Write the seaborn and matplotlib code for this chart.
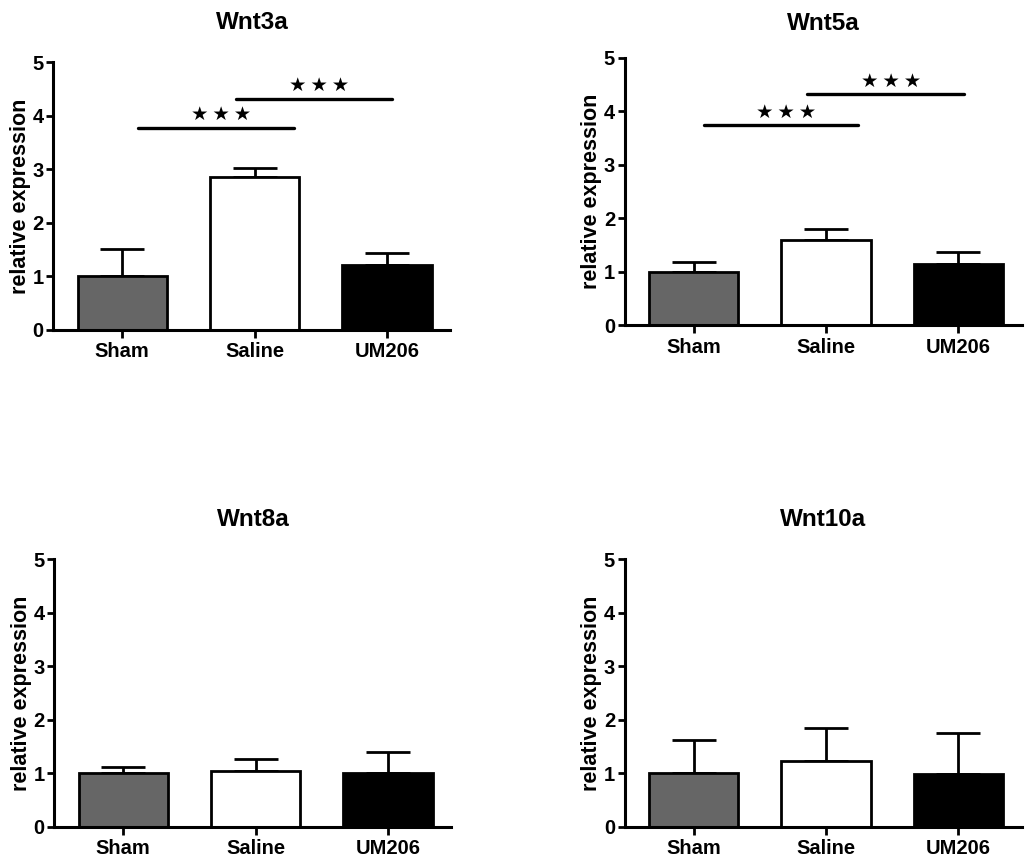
import numpy as np
import pandas as pd
import matplotlib
matplotlib.use("Agg")
import matplotlib.pyplot as plt
import seaborn as sns

groups = ["Sham", "Saline", "UM206"]
colors = ["#666666", "#ffffff", "#000000"]

genes = ["Wnt3a", "Wnt5a", "Wnt8a", "Wnt10a"]
wnt3a_mean = [1.00, 2.86, 1.21]
wnt3a_err = [0.51, 0.16, 0.22]
wnt5a_mean = [1.00, 1.60, 1.15]
wnt5a_err = [0.19, 0.20, 0.23]
wnt8a_mean = [1.00, 1.05, 1.00]
wnt8a_err = [0.11, 0.21, 0.39]
wnt10a_mean = [1.00, 1.23, 0.98]
wnt10a_err = [0.62, 0.61, 0.78]

# significance bars: (start, end, height) in category / data units
sig_wnt3a = [(0.12, 1.30, 3.77), (0.86, 2.04, 4.32)]
sig_wnt5a = [(0.08, 1.24, 3.74), (0.86, 2.04, 4.32)]

means = [wnt3a_mean, wnt5a_mean, wnt8a_mean, wnt10a_mean]
errs = [wnt3a_err, wnt5a_err, wnt8a_err, wnt10a_err]
sigs = [sig_wnt3a, sig_wnt5a, [], []]

sns.set_style("ticks")
plt.rcParams['font.family'] = ['Liberation Sans', 'DejaVu Sans']
plt.rcParams['font.weight'] = 'bold'
for k in ['text.color', 'axes.labelcolor', 'xtick.color', 'ytick.color', 'axes.edgecolor']:
    plt.rcParams[k] = 'black'

fig = plt.figure(figsize=(10.26, 8.63), dpi=100)
positions = [
    [0.052, 0.618, 0.387, 0.310],
    [0.609, 0.623, 0.387, 0.310],
    [0.053, 0.042, 0.387, 0.310],
    [0.609, 0.042, 0.387, 0.310],
]
title_pads = [24, 20, 24, 24]

for gene, m, e, sg, pos, tp in zip(genes, means, errs, sigs, positions, title_pads):
    ax = fig.add_axes(pos)
    df = pd.DataFrame({"group": groups, "value": m})
    sns.barplot(data=df, x="group", y="value", hue="group", palette=colors,
                edgecolor="black", linewidth=2, width=0.675, legend=False,
                errorbar=None, ax=ax, zorder=2)
    ax.errorbar(range(len(groups)), m, yerr=[np.zeros(len(e)), e], fmt="none",
                ecolor="black", elinewidth=2, capsize=16, capthick=2, zorder=1)
    for x0, x1, y in sg:
        ax.plot([x0, x1], [y, y], color="black", lw=2.4, solid_capstyle="round")
        ax.text((x0 + x1) / 2 + 0.04, y + 0.07, "★\u2009★\u2009★", ha="center", va="bottom",
                fontsize=14, family=["DejaVu Sans"])
    ax.set_xlim(-0.52, 2.48)
    ax.set_ylim(0, 5)
    ax.set_yticks([0, 1, 2, 3, 4, 5])
    ax.set_xlabel("")
    ax.set_ylabel("relative expression", fontsize=15.5, fontweight="bold", labelpad=1)
    ax.set_title(gene, fontsize=17.5, fontweight="bold", pad=tp)
    for s in ["top", "right"]:
        ax.spines[s].set_visible(False)
    for s in ["left", "bottom"]:
        ax.spines[s].set_linewidth(2.2)
    ax.tick_params(axis="both", width=2, length=5, labelsize=14.5, pad=2)
    ax.tick_params(axis="x", length=6, pad=3)
    for lab in ax.get_xticklabels() + ax.get_yticklabels():
        lab.set_fontweight("bold")

fig.savefig("out.png", dpi=100)
